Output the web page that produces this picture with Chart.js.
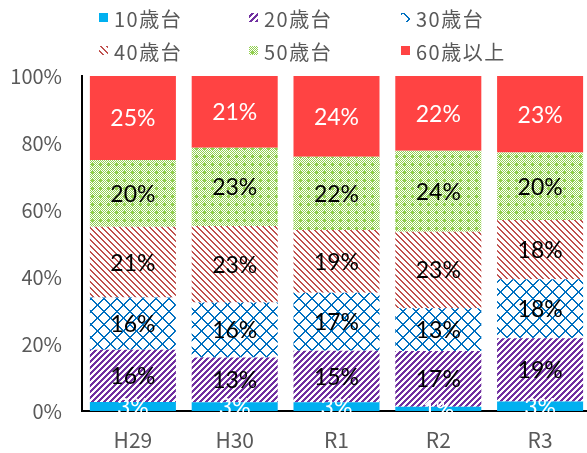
<!DOCTYPE html>
<html><head><meta charset="utf-8">
<script src="https://cdn.jsdelivr.net/npm/chart.js@4"></script>
<style>html,body{margin:0;padding:0;overflow:hidden;background:#fff}#wrap{width:591px;height:453px;position:relative}</style>
</head><body><div id="wrap"><canvas id="c" width="591" height="453"></canvas></div>
<script>
const categories = ['H29','H30','R1','R2','R3'];
const seriesNames = ['10歳台','20歳台','30歳台','40歳台','50歳台','60歳以上'];
const s10 = [2.7, 2.6, 2.6, 1.3, 2.8];
const s20 = [15.6, 13.4, 15.4, 16.6, 18.9];
const s30 = [15.6, 16.4, 17.3, 12.8, 17.6];
const s40 = [21.1, 22.8, 18.7, 22.8, 17.7];
const s50 = [19.9, 23.4, 21.9, 24.2, 20.2];
const s60 = [25.1, 21.4, 24.1, 22.3, 22.8];
const yTicks = [0, 20, 40, 60, 80, 100];

const canvas = document.getElementById('c');
const mainCtx = canvas.getContext('2d');
function makePattern(size, color, fn){
  const t = document.createElement('canvas'); t.width = t.height = size;
  const x = t.getContext('2d');
  x.fillStyle = '#fff'; x.fillRect(0,0,size,size);
  x.fillStyle = color;
  for (let i=0;i<size;i++) for (let j=0;j<size;j++) if (fn(i,j)) x.fillRect(i,j,1,1);
  return mainCtx.createPattern(t, 'repeat');
}
const fills = [
  '#00B0F0',
  makePattern(6, '#7030A0', (i,j)=> (i+j)%6 < 3),
  makePattern(13, '#0070C0', (i,j)=> { const a=(i-j+13)%13, b=(i+j)%13; return a < 2 || b >= 11 && b <= 12 ? (a<2 || b>=11) : false; }),
  makePattern(6, '#C0504D', (i,j)=> (i-j+6)%6 < 2),
  makePattern(8, '#92D050', (i,j)=> (i+j)%2===0 || (i===4 && j>=2 && j<=6) || (j===4 && i>=2 && i<=6)),
  '#FF4343'
];
const labelColors = ['#fff','#000','#000','#000','#000','#fff'];
const seriesData = [s10, s20, s30, s40, s50, s60];

const FONT = '"Noto Sans CJK JP", "Noto Sans", sans-serif';

const labelPlugin = {
  id: 'segLabels',
  afterDatasetsDraw(chart){
    const ctx = chart.ctx;
    ctx.save();
    ctx.font = '23px Lato, "Noto Sans", sans-serif';
    ctx.textAlign = 'center';
    ctx.textBaseline = 'middle';
    chart.data.datasets.forEach((ds, di) => {
      const meta = chart.getDatasetMeta(di);
      meta.data.forEach((el, i) => {
        const v = ds.data[i];
        ctx.fillStyle = labelColors[di];
        ctx.fillText(Math.round(v) + '%', el.x, (el.y + el.base) / 2 + 1);
      });
    });
    ctx.restore();
  }
};

const legendPlugin = {
  id: 'gridLegend',
  afterDraw(chart){
    const ctx = chart.ctx;
    const cols = [99, 249, 401];
    const rows = [13, 46];
    ctx.save();
    ctx.font = '20px ' + FONT;
    ctx.letterSpacing = '1.5px';
    ctx.textBaseline = 'middle';
    ctx.textAlign = 'left';
    seriesNames.forEach((name, k) => {
      const bx = cols[k % 3], by = rows[Math.floor(k / 3)];
      ctx.fillStyle = fills[k];
      ctx.fillRect(bx, by, 9, 9);
      ctx.fillStyle = '#595959';
      ctx.fillText(name, bx + 15, by + 6);
    });
    ctx.restore();
  }
};

new Chart(canvas, {
  type: 'bar',
  data: {
    labels: categories,
    datasets: seriesData.map((d, k) => ({
      label: seriesNames[k],
      data: d,
      backgroundColor: fills[k],
      borderWidth: 0,
      barPercentage: 0.845,
      categoryPercentage: 1.0
    }))
  },
  options: {
    responsive: false,
    animation: false,
    devicePixelRatio: 1,
    layout: { padding: { top: 76, right: 0, left: 0, bottom: 0 } },
    plugins: { legend: { display: false }, tooltip: { enabled: false } },
    scales: {
      x: {
        stacked: true,
        z: 1,
        grid: { display: false, drawTicks: false },
        border: { display: true, color: '#000', width: 2 },
        ticks: { color: '#595959', font: { family: FONT, size: 21 }, padding: 16 },
        afterFit(s){ s.height = 42; }
      },
      y: {
        stacked: true,
        min: 0, max: 100,
        z: 1,
        grid: { display: false, drawTicks: false },
        border: { display: true, color: '#000', width: 2 },
        afterBuildTicks(s){ s.ticks = yTicks.map(v => ({ value: v })); },
        ticks: { color: '#595959', font: { family: FONT, size: 20 }, padding: 20, callback: v => v + '%' },
        afterFit(s){ s.width = 82; }
      }
    }
  },
  plugins: [labelPlugin, legendPlugin]
});
</script>
</body></html>
